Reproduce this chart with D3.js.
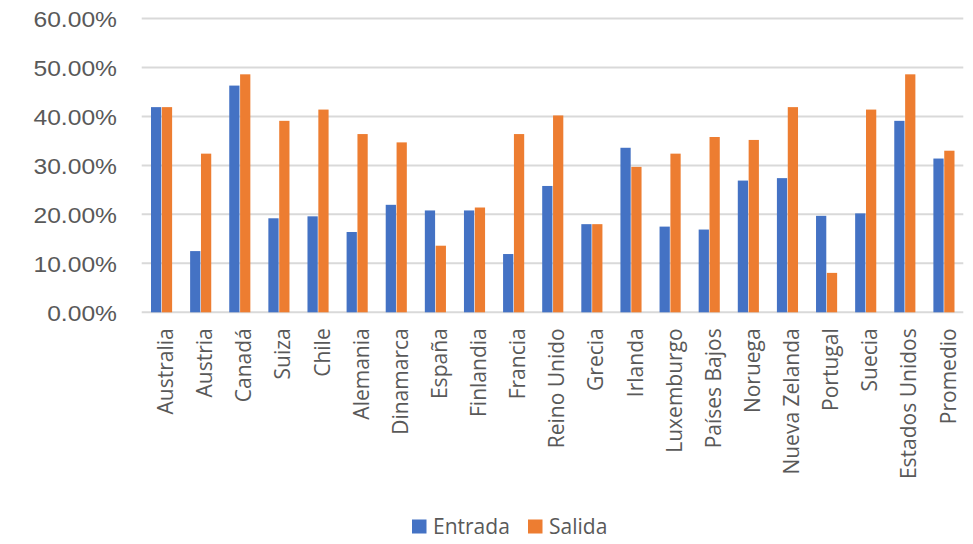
<!DOCTYPE html>
<html><head><meta charset="utf-8">
<script src="https://cdn.jsdelivr.net/npm/d3@7/dist/d3.min.js"></script>
<style>body{margin:0;background:#fff}svg{display:block}</style>
</head><body>
<script>
const categories = ["Australia","Austria","Canadá","Suiza","Chile","Alemania","Dinamarca","España","Finlandia","Francia","Reino Unido","Grecia","Irlanda","Luxemburgo","Países Bajos","Noruega","Nueva Zelanda","Portugal","Suecia","Estados Unidos","Promedio"];
const seriesNames = ["Entrada","Salida"];
const entrada = [0.419,0.125,0.463,0.192,0.196,0.164,0.2195,0.208,0.208,0.119,0.258,0.180,0.336,0.175,0.169,0.269,0.274,0.197,0.202,0.391,0.314];
const salida  = [0.419,0.324,0.486,0.391,0.414,0.364,0.347,0.136,0.214,0.364,0.402,0.180,0.297,0.324,0.358,0.352,0.419,0.0805,0.414,0.486,0.330];
const yTicks = [0,0.1,0.2,0.3,0.4,0.5,0.6];
const colors = ["#4472C4","#ED7D31"];

const W = 973, H = 544;
const svg = d3.select("body").append("svg").attr("width", W).attr("height", H);

const x = d3.scaleBand().domain(categories).range([142, 963.5]).paddingInner(0.445).paddingOuter(0.2225);
const xs = d3.scaleBand().domain(seriesNames).range([0, x.bandwidth()]);
const y = d3.scaleLinear().domain([0, 0.6]).range([312.3, 18.5]);

// gridlines
svg.append("g").selectAll("line").data(yTicks).join("line")
  .attr("x1", 141.7).attr("x2", 963.3)
  .attr("y1", d => y(d)).attr("y2", d => y(d))
  .attr("stroke", "#D9D9D9").attr("stroke-width", 2);

const yAxis = d3.axisLeft(y).tickValues(yTicks).tickFormat(d3.format(".2%")).tickSize(0).tickPadding(0);
const ga = svg.append("g").attr("transform", "translate(117,0)").call(yAxis);
ga.select(".domain").remove();
ga.selectAll(".tick text").attr("fill", "#595959")
  .style("font-family", "'Liberation Sans', Arial, sans-serif")
  .style("font-size", "22px").attr("dy", "0.36em")
  .attr("x", 0)
  .attr("transform", "scale(1.12,1)");

// bars
const data = categories.map((c, i) => ({c, vals: [entrada[i], salida[i]]}));
svg.append("g").selectAll("g.cat").data(data).join("g").attr("class","cat")
  .attr("transform", d => `translate(${x(d.c)},0)`)
  .selectAll("rect").data(d => d.vals.map((v, j) => ({v, s: seriesNames[j], j})))
  .join("rect")
  .attr("x", d => xs(d.s) + 0.3)
  .attr("width", xs.bandwidth() - 0.6)
  .attr("y", d => y(d.v))
  .attr("height", d => y(0) - y(d.v))
  .attr("fill", d => colors[d.j]);

// x labels
const xAxis = d3.axisBottom(x).tickSize(0).tickPadding(0);
const gx = svg.append("g").attr("transform", `translate(0,${y(0)})`).call(xAxis);
gx.select(".domain").remove();
gx.selectAll("text")
  .attr("fill", "#595959")
  .style("font-family", "'Open Sans', 'Noto Sans', sans-serif")
  .style("font-size", "21px")
  .attr("text-anchor", "end")
  .attr("transform", "rotate(-90)")
  .attr("x", -16).attr("y", 4).attr("dy", "0.36em");

// legend
const leg = svg.append("g");
const legX = [412, 528];
seriesNames.forEach((s, i) => {
  leg.append("rect").attr("x", legX[i]).attr("y", 519.5).attr("width", 14.5).attr("height", 14).attr("fill", colors[i]);
  leg.append("text").attr("x", legX[i] + 21).attr("y", 533.5).text(s)
    .attr("fill", "#595959")
    .style("font-family", "'Open Sans', 'Noto Sans', sans-serif")
    .style("font-size", "21px");
});
</script>
</body></html>
